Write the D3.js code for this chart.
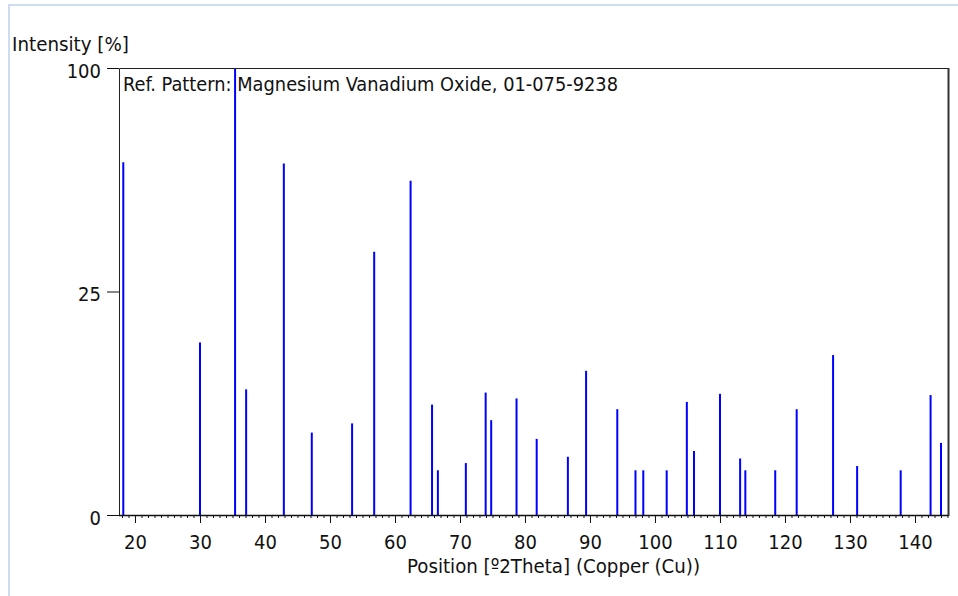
<!DOCTYPE html>
<html>
<head>
<meta charset="utf-8">
<script src="https://cdn.jsdelivr.net/npm/d3@7"></script>
<style>
html,body{margin:0;padding:0;background:#fff;}
svg{display:block;}
text{font-family:"DejaVu Sans Condensed","DejaVu Sans",sans-serif;font-stretch:condensed;fill:#111;}
</style>
</head>
<body>
<svg id="chart" width="958" height="596"></svg>
<script>
// Peak positions (°2Theta) and relative intensities (%)
const positions = [18.2, 30.0, 35.4, 37.1, 42.9, 47.2, 53.4, 56.8, 62.4,
  65.7, 66.6, 70.9, 73.95, 74.8, 78.7, 81.8, 86.6, 89.4, 94.2, 97.0, 98.2,
  101.8, 104.9, 106.0, 110.0, 113.1, 113.9, 118.5, 121.8, 127.4, 131.1,
  137.8, 142.4, 144.0];
const intensities = [62.3, 14.9, 100, 7.9, 61.8, 3.4, 4.2, 34.7, 55.9,
  6.1, 1.0, 1.35, 7.5, 4.5, 6.8, 2.9, 1.7, 10.4, 5.6, 1.0, 1.0,
  1.0, 6.4, 2.05, 7.35, 1.6, 1.0, 1.0, 5.6, 12.8, 1.2,
  1.0, 7.2, 2.6];
const xMajorTicks = [20, 30, 40, 50, 60, 70, 80, 90, 100, 110, 120, 130, 140];
const yTicks = [0, 25, 100];
const titleText = "Ref. Pattern: Magnesium Vanadium Oxide, 01-075-9238";
const yAxisTitle = "Intensity [%]";
const xAxisTitle = "Position [º2Theta] (Copper (Cu))";

const svg = d3.select("#chart");
const L = 119, R = 948, T = 68, B = 515;

const x = d3.scaleLinear().domain([17.54, 145.08]).range([L, R]);
const y = d3.scaleSqrt().domain([0, 100]).range([B, T]);

// outer light-blue panel border
svg.append("line").attr("x1", 9).attr("x2", 9).attr("y1", 5).attr("y2", 596)
  .attr("stroke", "#cfdbef").attr("stroke-width", 2);
svg.append("line").attr("x1", 8).attr("x2", 958).attr("y1", 5).attr("y2", 5)
  .attr("stroke", "#cfdbef").attr("stroke-width", 2);

// peaks
svg.append("g").selectAll("line").data(positions).join("line")
  .attr("x1", d => x(d)).attr("x2", d => x(d))
  .attr("y1", B).attr("y2", (d, i) => y(intensities[i]))
  .attr("stroke", "#0000ff").attr("stroke-width", 2);

// frame
svg.append("path")
  .attr("d", `M${L+0.5},${B}V${T+0.5}H${R}`)
  .attr("fill", "none").attr("stroke", "#222").attr("stroke-width", 1);
svg.append("line").attr("x1", R+0.5).attr("x2", R+0.5).attr("y1", T).attr("y2", B+1)
  .attr("stroke", "#333").attr("stroke-width", 2);

// x axis: minor ticks every 1 degree
const minor = d3.range(18, 146, 1).filter(v => v % 10 !== 0 && x(v) <= R);
const xMinor = d3.axisBottom(x).tickValues(minor).tickSize(3).tickFormat("");
const gxm = svg.append("g").attr("transform", `translate(0,${B})`).call(xMinor);
gxm.select(".domain").remove();
gxm.selectAll(".tick line").attr("stroke", "#111");

const xAxis = d3.axisBottom(x).tickValues(xMajorTicks).tickSize(8).tickPadding(12).tickFormat(d3.format("d"));
const gx = svg.append("g").attr("transform", `translate(0,${B})`).call(xAxis);
gx.select(".domain").attr("d", `M${L},0.5H${R}`).attr("stroke", "#111").attr("stroke-width", 1.5);
gx.selectAll(".tick line").attr("stroke", "#111");
gx.selectAll(".tick text").attr("font-size", 20).attr("fill", "#111")
  .attr("font-family", '"DejaVu Sans Condensed","DejaVu Sans",sans-serif');

// y axis
const yAxis = d3.axisLeft(y).tickValues(yTicks).tickSize(12).tickPadding(6).tickFormat(d3.format("d"));
const gy = svg.append("g").attr("transform", `translate(${L},0)`).call(yAxis);
gy.select(".domain").remove();
gy.selectAll(".tick line").attr("stroke", "#111");
gy.selectAll(".tick text").attr("font-size", 20).attr("fill", "#111").attr("dy", "0.45em")
  .attr("font-family", '"DejaVu Sans Condensed","DejaVu Sans",sans-serif');

// texts
svg.append("text").attr("x", 123).attr("y", 91).attr("font-size", 20)
  .attr("textLength", 495).attr("lengthAdjust", "spacingAndGlyphs").text(titleText);
svg.append("text").attr("x", 12).attr("y", 51).attr("font-size", 20)
  .attr("textLength", 117).attr("lengthAdjust", "spacingAndGlyphs").text(yAxisTitle);
svg.append("text").attr("x", 407).attr("y", 573).attr("font-size", 20)
  .attr("textLength", 293).attr("lengthAdjust", "spacingAndGlyphs").text(xAxisTitle);
</script>
</body>
</html>
